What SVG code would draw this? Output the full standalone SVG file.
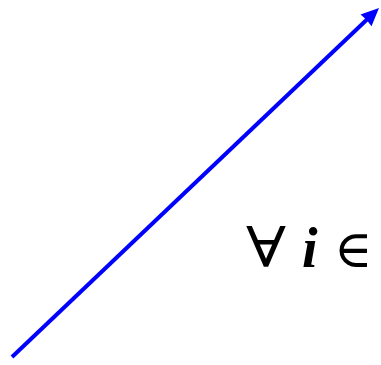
<svg xmlns="http://www.w3.org/2000/svg" width="381" height="365" viewBox="0 0 381 365">
<style>
.conn{stroke:#0000ff;stroke-width:4;fill:none}
.head{fill:#0000ff}
.lbl{font-family:"Liberation Serif","DejaVu Serif",serif;font-size:56px;fill:#000}
</style>
<rect width="381" height="365" fill="#fff"/>
<g id="connectors">
<line class="conn" x1="12" y1="357" x2="367" y2="19.5"/>
<path class="head" d="M379,8 L371.5,26.2 L366.5,19.8 L360.5,14.6 Z"/>
</g>
<g id="label">
<text class="lbl" y="267"><tspan x="246" textLength="40" lengthAdjust="spacingAndGlyphs">∀</tspan> <tspan x="302" font-weight="bold" font-style="italic">i</tspan> <tspan x="334" font-size="52">∈</tspan></text>
</g>
</svg>
